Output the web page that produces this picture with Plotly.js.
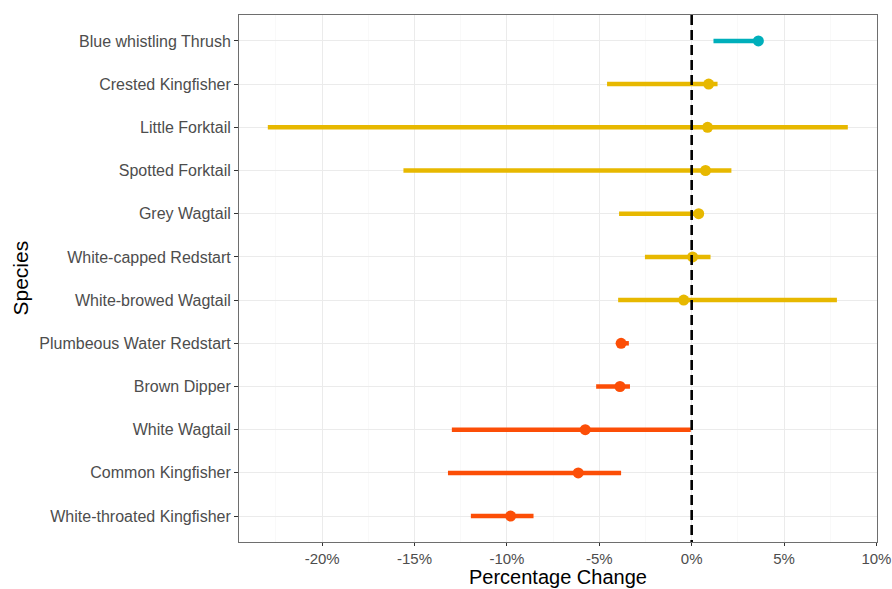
<!DOCTYPE html>
<html>
<head>
<meta charset="utf-8">
<script src="https://cdn.plot.ly/plotly-3.0.1.min.js"></script>
<style>html,body{margin:0;padding:0;background:#fff;}#chart{width:892px;height:589px;}</style>
</head>
<body>
<div id="chart"></div>
<script>
// Species ordered bottom to top
const species = [
  "White-throated Kingfisher",
  "Common Kingfisher",
  "White Wagtail",
  "Brown Dipper",
  "Plumbeous Water Redstart",
  "White-browed Wagtail",
  "White-capped Redstart",
  "Grey Wagtail",
  "Spotted Forktail",
  "Little Forktail",
  "Crested Kingfisher",
  "Blue whistling Thrush"
];
const estimate = [-9.8, -6.14, -5.76, -3.88, -3.82, -0.43, 0.05, 0.38, 0.75, 0.86, 0.92, 3.61];
const lower    = [-11.95, -13.19, -12.98, -5.17, -4.0, -3.98, -2.53, -3.93, -15.6, -22.94, -4.58, 1.18];
const upper    = [-8.56, -3.82, -0.05, -3.34, -3.4, 7.86, 1.02, 0.3, 2.15, 8.45, 1.4, 3.61];
const trend    = ["Decline","Decline","Decline","Decline","Decline","Stable","Stable","Stable","Stable","Stable","Stable","Increase"];

const xTickVals = [-20, -15, -10, -5, 0, 5, 10];
const xTickText = ["-20%", "-15%", "-10%", "-5%", "0%", "5%", "10%"];
const xTitle = "Percentage Change";
const yTitle = "Species";

const groupColors = {Increase: "#00AFBB", Stable: "#E7B800", Decline: "#FC4E07"};

const traces = Object.keys(groupColors).map(g => {
  const idx = trend.map((t, i) => t === g ? i : -1).filter(i => i >= 0);
  return {
    type: "scatter",
    mode: "markers",
    x: idx.map(i => estimate[i]),
    y: idx.map(i => species[i]),
    marker: {color: groupColors[g], size: 11},
    error_x: {
      type: "data",
      symmetric: false,
      array: idx.map(i => upper[i] - estimate[i]),
      arrayminus: idx.map(i => estimate[i] - lower[i]),
      color: groupColors[g],
      thickness: 4.5,
      width: 0
    },
    showlegend: false,
    hoverinfo: "x+y"
  };
});

const layout = {
  width: 892,
  height: 589,
  margin: {l: 239, r: 15, t: 15, b: 47},
  paper_bgcolor: "#ffffff",
  plot_bgcolor: "#ffffff",
  font: {family: "Liberation Sans, Arial, sans-serif", color: "#4D4D4D"},
  xaxis: {
    range: [-24.5, 10.03],
    tickmode: "array",
    tickvals: xTickVals,
    ticktext: xTickText,
    tickfont: {size: 15, color: "#4D4D4D"},
    ticklabeloverflow: "allow",
    ticks: "outside",
    ticklen: 3,
    tickwidth: 1,
    tickcolor: "#333333",
    showgrid: true,
    gridcolor: "#EBEBEB",
    gridwidth: 1.1,
    minor: {tickvals: [-22.5, -17.5, -12.5, -7.5, -2.5, 2.5, 7.5], showgrid: true, gridcolor: "#F5F5F5", gridwidth: 0.6, ticks: ""},
    zeroline: false,
    showline: true,
    linecolor: "#6E6E6E",
    linewidth: 1,
    mirror: true
  },
  yaxis: {
    type: "category",
    categoryorder: "array",
    categoryarray: species,
    range: [-0.6, 11.6],
    tickfont: {size: 16, color: "#4D4D4D"},
    ticks: "outside",
    ticklen: 4,
    tickwidth: 1,
    tickcolor: "#333333",
    showgrid: true,
    gridcolor: "#EBEBEB",
    gridwidth: 1.1,
    zeroline: false,
    showline: true,
    linecolor: "#6E6E6E",
    linewidth: 1,
    mirror: true
  },
  annotations: [
    {text: xTitle, xref: "paper", yref: "paper", x: 0.5, y: 0, xanchor: "center", yanchor: "bottom",
     yshift: -47, borderpad: 0, showarrow: false, font: {size: 20, color: "#000000"}},
    {text: yTitle, xref: "paper", yref: "paper", x: 0, y: 0.5, xanchor: "center", yanchor: "middle",
     xshift: -219, textangle: -90, showarrow: false, font: {size: 21, color: "#000000"}}
  ],
  shapes: [{
    type: "line",
    xref: "x", yref: "paper",
    x0: 0, x1: 0, y0: 1, y1: 0,
    line: {color: "#000000", width: 2.6, dash: "10px,5px"},
    layer: "above"
  }]
};

Plotly.newPlot("chart", traces, layout, {displayModeBar: false, staticPlot: true});
</script>
</body>
</html>
